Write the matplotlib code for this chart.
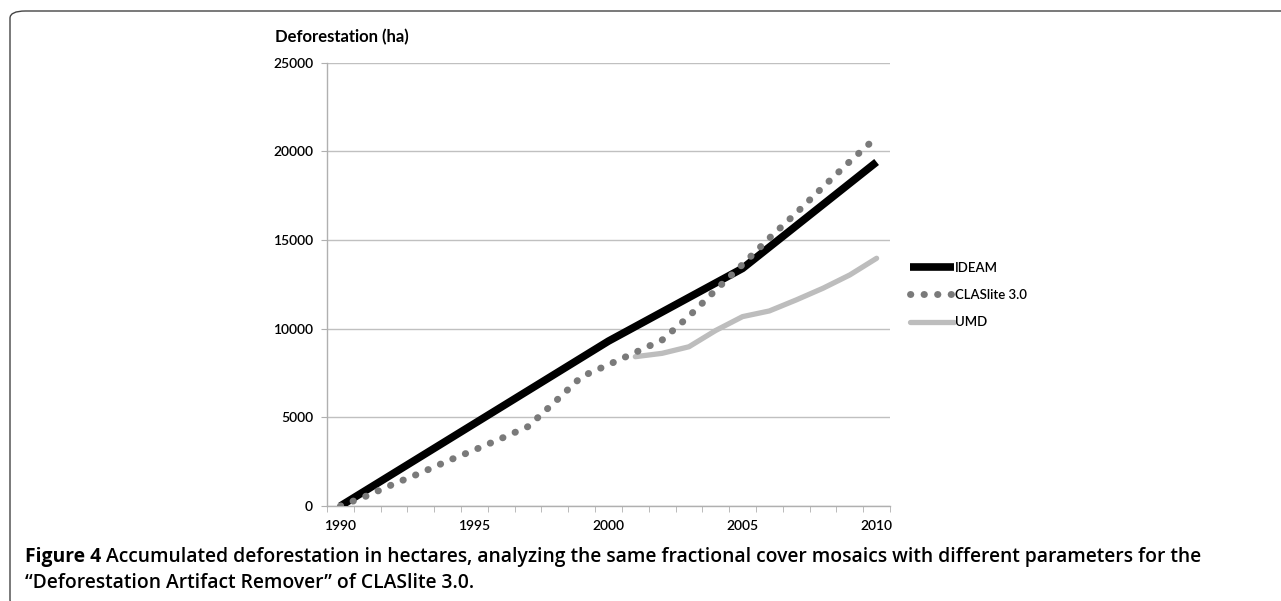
import matplotlib.pyplot as plt
from matplotlib.patches import FancyBboxPatch

# Data (category axis, one slot per year)
years = list(range(1990, 2011))

ideam_years = [1990, 2000, 2005, 2010]
ideam_vals = [0, 9300, 13400, 19400]

claslite_vals = [0, 580, 1250, 1870, 2540, 3160, 3810, 4480, 5870, 7300,
                 7970, 8660, 9360, 10700, 12180, 13620, 15110, 16520, 17990,
                 19430, 20800]

umd_years = list(range(2001, 2011))
umd_vals = [8420, 8610, 8980, 9900, 10680, 11000, 11620, 12280, 13030, 13970]

tick_labels = ['1990', '1995', '2000', '2005', '2010']

plt.rcParams['font.family'] = ['Lato', 'DejaVu Sans']

W, H = 1281, 601
fig = plt.figure(figsize=(W / 100, H / 100), dpi=100)

ax = fig.add_axes([327 / W, 1 - 506 / H, 563 / W, 443.3 / H])


def idx(ys):
    return [y - years[0] for y in ys]


ax.plot(idx(ideam_years), ideam_vals, color='black', lw=5.5,
        solid_capstyle='butt', solid_joinstyle='round', label='IDEAM', zorder=3)
ax.plot(idx(years), claslite_vals, color='#7a7a7a', lw=5.0,
        linestyle=(0, (0.05, 1.9)), dash_capstyle='round', label='CLASlite 3.0', zorder=4)
ax.plot(idx(umd_years), umd_vals, color='#bdbdbd', lw=3.8,
        solid_capstyle='round', solid_joinstyle='round', label='UMD', zorder=2)

ax.set_xlim(-0.5, len(years) - 0.5)
ax.set_ylim(0, 25000)
ax.set_yticks(range(0, 25001, 5000))
ax.set_xticks([years.index(int(t)) for t in tick_labels])
ax.set_xticklabels(tick_labels)
ax.set_xticks([i - 0.5 for i in range(len(years) + 1)], minor=True)

ax.grid(axis='y', color='#c0c0c0', lw=1.0)
ax.set_axisbelow(True)
for s in ['top', 'right']:
    ax.spines[s].set_visible(False)
for s in ['left', 'bottom']:
    ax.spines[s].set_color('#b0b0b0')
    ax.spines[s].set_linewidth(1.0)
ax.tick_params(axis='y', length=4, color='#b0b0b0', labelsize=10, pad=6)
ax.tick_params(axis='x', which='major', length=0, labelsize=10, pad=10)
ax.tick_params(axis='x', which='minor', length=4, color='#b0b0b0')
for lab in ax.get_xticklabels() + ax.get_yticklabels():
    lab.set_fontweight('semibold')

fig.text(275 / W, 1 - 37 / H, 'Deforestation (ha)', fontsize=12, fontweight='bold',
         ha='left', va='center')

leg = ax.legend(loc='center left', bbox_to_anchor=(910 / W, 1 - 295 / H),
                bbox_transform=fig.transFigure, frameon=False, fontsize=9.5,
                handlelength=3.3, handletextpad=0.1, labelspacing=1.15,
                borderaxespad=0, borderpad=0)
for t in leg.get_texts():
    t.set_fontweight('semibold')

# caption
cap_font = ['Open Sans', 'DejaVu Sans']
cap_size = 13.9
t1 = fig.text(25 / W, 1 - 562 / H, 'Figure 4', fontsize=cap_size, fontweight='bold',
              family=cap_font, ha='left', va='baseline')
fig.canvas.draw()
bb = t1.get_window_extent(renderer=fig.canvas.get_renderer())
fig.text((bb.x1 + 5) / W, 1 - 562 / H,
         'Accumulated deforestation in hectares, analyzing the same fractional '
         'cover mosaics with different parameters for the',
         fontsize=cap_size, fontweight='semibold', family=cap_font,
         ha='left', va='baseline')
fig.text(25 / W, 1 - 588 / H,
         '\u201cDeforestation Artifact Remover\u201d of CLASlite 3.0.',
         fontsize=cap_size, fontweight='semibold', family=cap_font,
         ha='left', va='baseline')

# rounded frame around the figure panel (right and bottom run off the page)
frame = FancyBboxPatch((10 / W, -6 / H), (W + 20) / W, (H - 11 + 6) / H,
                       boxstyle='round,pad=0,rounding_size=0.012',
                       transform=fig.transFigure, fill=False,
                       edgecolor='#444444', lw=1.0)
fig.add_artist(frame)

fig.savefig('out.png', dpi=100)
